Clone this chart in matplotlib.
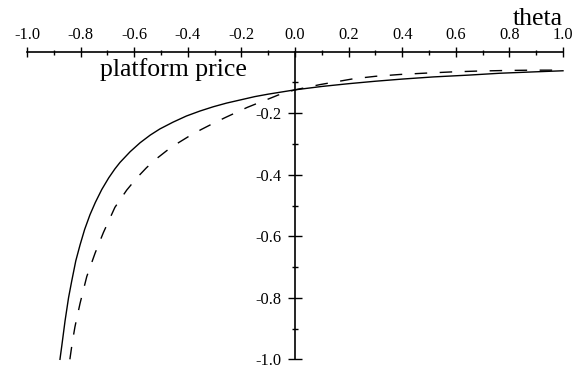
import matplotlib
matplotlib.use('Agg')
import matplotlib.pyplot as plt
from matplotlib.ticker import MultipleLocator, FixedLocator, FormatStrFormatter

plt.rcParams['font.family'] = ['Liberation Serif', 'DejaVu Serif']

# curva cheia
theta_solid = [-0.877, -0.870, -0.858, -0.845, -0.833, -0.818, -0.802, -0.785, -0.765,
               -0.745, -0.721, -0.695, -0.672, -0.653, -0.615, -0.578, -0.540, -0.504,
               -0.455, -0.405, -0.355, -0.305, -0.255, -0.205, -0.150, -0.100, -0.050,
               0.0, 0.10, 0.20, 0.30, 0.40, 0.516, 0.65, 0.765, 0.88, 1.0]
price_solid = [-1.000, -0.955, -0.875, -0.800, -0.745, -0.680, -0.628, -0.578, -0.530,
               -0.490, -0.448, -0.410, -0.381, -0.360, -0.325, -0.296, -0.271, -0.251,
               -0.229, -0.209, -0.193, -0.179, -0.167, -0.157, -0.146, -0.138, -0.131,
               -0.124, -0.113, -0.104, -0.096, -0.089, -0.082, -0.076, -0.070, -0.066, -0.062]

# curva tracejada
theta_dash = [-0.840, -0.831, -0.821, -0.802, -0.777, -0.746, -0.715, -0.672, -0.628,
              -0.590, -0.554, -0.517, -0.479, -0.435, -0.392, -0.350, -0.305, -0.260,
              -0.218, -0.178, -0.138, -0.100, -0.063, -0.030, 0.0, 0.093, 0.218,
              0.300, 0.392, 0.480, 0.578, 0.680, 0.790, 0.890, 1.0]
price_dash = [-1.000, -0.945, -0.894, -0.818, -0.731, -0.655, -0.588, -0.506, -0.450,
              -0.410, -0.377, -0.348, -0.322, -0.296, -0.273, -0.253, -0.233, -0.214,
              -0.197, -0.181, -0.167, -0.154, -0.141, -0.132, -0.124, -0.107, -0.088,
              -0.080, -0.074, -0.070, -0.066, -0.063, -0.061, -0.060, -0.060]

x_major = [-1.0, -0.8, -0.6, -0.4, -0.2, 0.0, 0.2, 0.4, 0.6, 0.8, 1.0]
y_major = [-1.0, -0.8, -0.6, -0.4, -0.2]

fig = plt.figure(figsize=(5.76, 3.73), dpi=100)
ax = fig.add_axes([27 / 576, 1 - 359.3 / 373, 536 / 576, 307.6 / 373])

ax.plot(theta_solid, price_solid, color='black', lw=1.0, clip_on=False)
ax.plot(theta_dash, price_dash, color='black', lw=1.0, ls=(0, (9, 9)), clip_on=False)

ax.set_xlim(-1.0, 1.0)
ax.set_ylim(-1.0, 0.0)

# eixos cruzando na origem
ax.spines['bottom'].set_visible(False)
ax.spines['right'].set_visible(False)
ax.spines['left'].set_position(('data', 0.0))
for s in ('top', 'left'):
    ax.spines[s].set_linewidth(1.2)

ax.xaxis.tick_top()
ax.xaxis.set_major_locator(FixedLocator(x_major))
ax.xaxis.set_minor_locator(MultipleLocator(0.1))
ax.xaxis.set_major_formatter(FormatStrFormatter('%.1f'))
ax.yaxis.set_major_locator(FixedLocator(y_major))
ax.yaxis.set_minor_locator(FixedLocator([-0.9, -0.7, -0.5, -0.3, -0.1]))
ax.yaxis.set_major_formatter(FormatStrFormatter('%.1f'))

ax.tick_params(axis='x', which='major', direction='inout', length=7.2, width=1.0,
               labelsize=11.8, pad=2.4)
ax.tick_params(axis='x', which='minor', direction='inout', length=3.6, width=1.0)
ax.tick_params(axis='y', which='major', direction='inout', length=9.6, width=1.0,
               labelsize=11.8, pad=4.6)
ax.tick_params(axis='y', which='minor', direction='inout', length=4.8, width=1.0)
for t in ax.get_xticklines() + ax.get_yticklines():
    t.set_clip_on(False)

ax.text(1.0, 0.0866, 'theta', fontsize=18.5, ha='right', va='baseline', clip_on=False)
ax.text(-0.728, -0.079, 'platform price', fontsize=18.5, ha='left', va='baseline')

fig.savefig('out.png', dpi=100)
